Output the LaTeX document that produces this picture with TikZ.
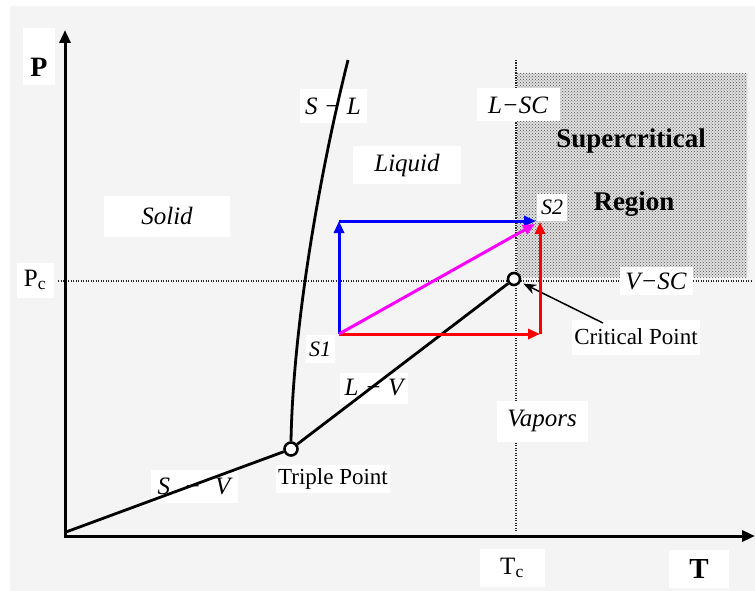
\documentclass[tikz,border=0pt]{standalone}
\usepackage{fontspec}
\setmainfont{Liberation Serif}
\usetikzlibrary{arrows.meta,patterns}
\definecolor{bggray}{HTML}{F4F4F4}
\definecolor{pblue}{RGB}{0,0,255}
\definecolor{pred}{RGB}{255,0,0}
\definecolor{pmag}{RGB}{255,0,255}
\begin{document}
\begin{tikzpicture}[x=1pt,y=-1pt,
  lbl/.style={fill=white, inner sep=0pt, align=center},
  itl/.style={lbl, font=\fontsize{25}{30}\selectfont\itshape},
  rml/.style={lbl, font=\fontsize{23}{27}\selectfont},
  bfl/.style={font=\fontsize{27}{30}\selectfont\bfseries},
  axis/.style={line width=3pt, {Triangle[length=13pt,width=11pt]}-{Triangle[length=13pt,width=11pt]}},
  phase/.style={line width=2.8pt, black},
  dotline/.style={line width=1.5pt, dash pattern=on 1.4pt off 1.1pt, black!85},
  path/.style={line width=3pt, -{Triangle[length=12pt,width=10pt]}},
  pointmark/.style={circle, draw=black, line width=2.6pt, fill=white, inner sep=0pt},
]
\useasboundingbox (0,0) rectangle (755,591);
\fill[white] (0,0) rectangle (755,591);
\fill[bggray] (10,6) rectangle (755,591);

% supercritical region
\fill[black!12] (517,73) rectangle (747,277);
\fill[pattern=crosshatch dots, pattern color=black!70] (517,73) rectangle (747,277);

% dotted reference lines
\coordinate (pcl) at (58,281);
\coordinate (pcr) at (752,281);
\coordinate (tct) at (516,60);
\coordinate (tcb) at (516,532);
\draw[dotline] (pcl) -- (pcr);
\draw[dotline] (tct) -- (tcb);

% labels with white boxes
\node[lbl, minimum width=32pt, minimum height=57pt] (Pbox) at (39,57) {};
\node[font=\fontsize{28}{30}\selectfont\bfseries, inner sep=0pt] (P) at (39,67) {P};
\node[rml, font=\fontsize{25}{30}\selectfont, minimum width=37pt, minimum height=35pt] (Pc) at (35,280) {P\textsubscript{c}};
\node[rml, font=\fontsize{25}{30}\selectfont, minimum width=65pt, minimum height=38pt] (Tc) at (512,568) {T\textsubscript{c}};
\node[lbl, font=\fontsize{29}{30}\selectfont\bfseries, minimum width=60pt, minimum height=38pt] (T) at (699,569) {T};
\node[itl, minimum width=83pt, minimum height=33pt] (LSC) at (518,105) {L−SC};
\node[itl, minimum width=73pt, minimum height=28pt] (VSC) at (656,281) {V−SC};
\node[rml, minimum width=128pt, minimum height=35pt] (cpl) at (636,337) {Critical Point};
\node[itl, font=\fontsize{22}{24}\selectfont\itshape, minimum width=30pt, minimum height=27pt] (S2l) at (552,207) {S2};
\node[itl, font=\fontsize{22}{24}\selectfont\itshape, minimum width=29pt, minimum height=28pt] (S1l) at (320,349) {S1};
\node[rml, minimum width=114pt, minimum height=28pt] (tpl) at (333,479) {Triple Point};
\node[itl, minimum width=87pt, minimum height=33pt] (SV) at (194,486) {S\hspace{14pt}−\hspace{14pt}V};
\node[itl, minimum width=68pt, minimum height=31pt] (LV) at (374,388) {L − V};
\node[itl, minimum width=91pt, minimum height=41pt] (vap) at (542,421) {Vapors};
\node[itl, minimum width=108pt, minimum height=37pt] (liq) at (407,165) {Liquid};
\node[itl, minimum width=126pt, minimum height=41pt] (sol) at (167,216) {Solid};
\node[itl, minimum width=67pt, minimum height=34pt] (SL) at (333,106) {S − L};
\node[bfl] (sc1) at (631,141) {Supercritical};
\node[bfl] (sc2) at (634,204) {Region};

% axes
\coordinate (ytop) at (65,30);
\coordinate (orig) at (65,536);
\coordinate (xend) at (755,536);
\draw[axis] (ytop) -- (orig) -- (xend);

% special points
\node[pointmark, minimum size=13pt] (tp) at (291,449) {};
\node[pointmark, minimum size=12pt] (cp) at (514,279) {};

% phase boundaries
\coordinate (svstart) at (66,532);
\coordinate (sltop) at (348,60);
\draw[phase] (svstart) -- (tp);
\draw[phase] (tp) -- (cp);
\draw[phase] (tp.north) .. controls (293,330) and (318,180) .. (sltop);

% critical point pointer
\coordinate (cpa) at (603,323);
\draw[line width=1.5pt, -{Stealth[length=13pt,width=10pt]}, shorten >=3pt] (cpa) -- (cp);

% process paths
\coordinate (s1) at (339,334);
\coordinate (bc) at (339,221);
\coordinate (be) at (536,221);
\coordinate (rc) at (540,334);
\coordinate (re) at (540,222);
\coordinate (me) at (535,224);
\draw[path, pblue] (s1) -- (bc);
\draw[path, pblue] (bc) -- (be);
\draw[path, pred] (s1) -- (rc);
\draw[path, pred] (rc) -- (re);
\draw[path, pmag] (s1) -- (me);
\end{tikzpicture}
\end{document}
